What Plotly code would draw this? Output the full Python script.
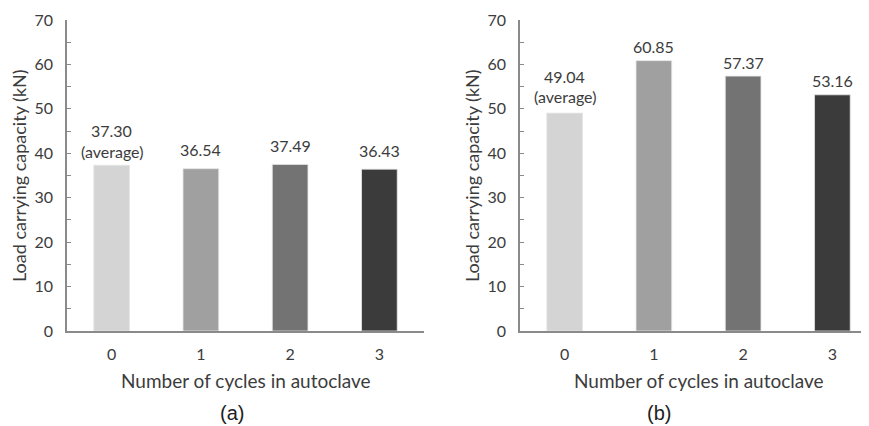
import plotly.graph_objects as go

categories = [0, 1, 2, 3]
tick_labels = ["0", "1", "2", "3"]
values_a = [37.30, 36.54, 37.49, 36.43]
values_b = [49.04, 60.85, 57.37, 53.16]
labels_a = ["37.30", "36.54", "37.49", "36.43"]
labels_b = ["49.04", "60.85", "57.37", "53.16"]
bar_colors = ["#d4d4d4", "#a0a0a0", "#737373", "#3b3b3b"]
y_ticks = [0, 10, 20, 30, 40, 50, 60, 70]
x_title = "Number of cycles in autoclave"
y_title = "Load carrying capacity (kN)"
panel_labels = ["(a)", "(b)"]

FONT = "Lato"
TXT = "#3c3c3c"
AX = "#8a8a8a"

OFF = 8  # page body margin
W, H = 869 - OFF, 426 - OFF


def px(x):
    return (x - OFF) / W


def py(y):
    return 1 - (y - OFF) / H


fig = go.Figure()

for vals, xa, ya in [(values_a, "x", "y"), (values_b, "x2", "y2")]:
    fig.add_trace(go.Bar(
        x=categories, y=vals, xaxis=xa, yaxis=ya, width=0.4,
        marker=dict(color=bar_colors, line=dict(color="#e6e6e6", width=0.8)),
        showlegend=False, hoverinfo="skip"))

y_dom = [py(331), py(20)]
common_y = dict(range=[0, 70], tickvals=y_ticks, ticktext=[str(v) for v in y_ticks],
                showline=True, linecolor=AX, linewidth=1.5, ticks="inside", ticklen=4,
                tickcolor=AX, tickwidth=1.2, showgrid=False, zeroline=False,
                minor=dict(ticks="inside", dtick=5, ticklen=4, tickcolor=AX, tickwidth=1.2),
                tickfont=dict(family=FONT, size=16, color=TXT), ticklabelstandoff=9,
                domain=y_dom, automargin=False)
common_x = dict(tickvals=categories, ticktext=tick_labels, showline=True, linecolor=AX,
                linewidth=1.5, ticks="", showgrid=False, zeroline=False,
                tickfont=dict(family=FONT, size=16, color=TXT), ticklabelstandoff=8,
                automargin=False)

cat_px = (424 - 67) / 4
b_hi = -0.5 + (869 - 520) / cat_px

fig.update_layout(
    width=W, height=H, margin=dict(l=0, r=0, t=0, b=0),
    paper_bgcolor="white", plot_bgcolor="white", bargap=0.6,
    xaxis=dict(domain=[px(67), px(424)], range=[-0.5, 3.5], anchor="y", **common_x),
    yaxis=dict(anchor="x", **common_y),
    xaxis2=dict(domain=[px(520), 1.0], range=[-0.5, b_hi], anchor="y2", **common_x),
    yaxis2=dict(anchor="x2", **common_y),
)

ann = []
panels = [(values_a, labels_a, "x", "y", 19, 14, 35), (values_b, labels_b, "x2", "y2", 14, 17, 37)]
for vals, labs, xr, yr, shift, s_avg, s_first in panels:
    for i, (c, v, t) in enumerate(zip(categories, vals, labs)):
        if i == 0:
            ann.append(dict(x=c, y=v, xref=xr, yref=yr, text="(average)", showarrow=False,
                            yanchor="middle", yshift=s_avg,
                            font=dict(family=FONT, size=16, color=TXT)))
            ann.append(dict(x=c, y=v, xref=xr, yref=yr, text=t, showarrow=False,
                            yanchor="middle", yshift=s_first,
                            font=dict(family=FONT, size=16, color=TXT)))
        else:
            ann.append(dict(x=c, y=v, xref=xr, yref=yr, text=t, showarrow=False,
                            yanchor="middle", yshift=shift,
                            font=dict(family=FONT, size=16, color=TXT)))
    ann.append(dict(x=1.5, y=py(380), xref=xr, yref="paper", text=x_title, showarrow=False,
                    yanchor="middle", font=dict(family=FONT, size=19, color=TXT)))

for xp in [px(19), px(472)]:
    ann.append(dict(x=xp, y=py(176), xref="paper", yref="paper", text=y_title,
                    showarrow=False, textangle=-90, xanchor="center", yanchor="middle",
                    font=dict(family=FONT, size=18, color=TXT)))

for lab, xp in zip(panel_labels, [px(218), px(673)]):
    ann.append(dict(x=xp, y=py(413), xref="paper", yref="paper", text=lab, showarrow=False,
                    yanchor="middle", font=dict(family="Liberation Sans", size=20, color="#222222")))

fig.update_layout(annotations=ann)
fig.write_html("out.html")
